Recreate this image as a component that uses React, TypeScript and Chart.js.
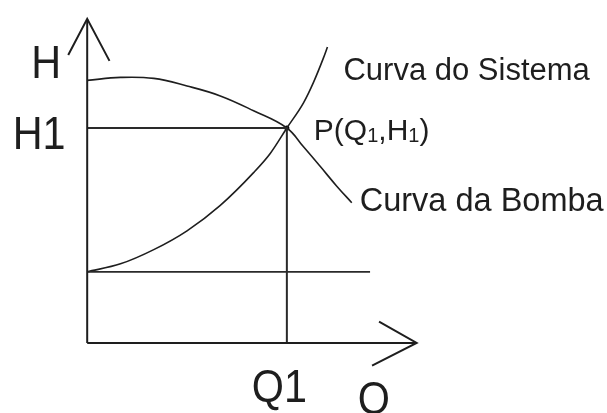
import React, { useEffect, useRef } from "react";
import { Chart, registerables } from "chart.js";

Chart.register(...registerables);

// Operating point and static head (Q, H in diagram units)
const Q1 = 6;
const H1 = 6.5;
const H_STATIC = 2.15;

// Axis extents
const Q_AXIS_END = 9.9;
const H_AXIS_END = 9.8;
const STATIC_LINE_END = 8.5;

// Pump curve (Curva da Bomba)
const pumpQ = [0, 1, 2, 3, 4, 5, 6, 6.5, 7, 7.5, 7.95];
const pumpH = [7.94, 8.03, 8.0, 7.77, 7.47, 7.02, 6.5, 5.93, 5.34, 4.74, 4.24];

// System curve (Curva do Sistema)
const systemQ = [0, 1, 2, 3, 4, 5, 5.5, 6, 6.5, 6.8, 7.1, 7.22];
const systemH = [2.15, 2.39, 2.82, 3.39, 4.16, 5.15, 5.73, 6.5, 7.26, 7.88, 8.62, 8.95];

// Axis and curve labels
const axisLabelH = "H";
const axisLabelQ = "Q";
const tickLabelH1 = "H1";
const tickLabelQ1 = "Q1";
const curveLabelSystem = "Curva do Sistema";
const curveLabelPump = "Curva da Bomba";

const INK = "#1e1e1e";
const FONT = '"Liberation Sans", Arial, sans-serif';

const pts = (xs: number[], ys: number[]) => xs.map((x, i) => ({ x, y: ys[i] }));

const labelsPlugin = {
  id: "diagramLabels",
  afterDatasetsDraw(chart: any) {
    const { ctx, scales } = chart;
    const X = (v: number) => scales.x.getPixelForValue(v);
    const Y = (v: number) => scales.y.getPixelForValue(v);
    ctx.save();
    ctx.fillStyle = INK;
    ctx.textBaseline = "alphabetic";
    ctx.textAlign = "left";

    const text = (s: string, size: number, x: number, y: number, sx = 1) => {
      ctx.font = `${size}px ${FONT}`;
      ctx.save();
      ctx.translate(x, y);
      ctx.scale(sx, 1);
      ctx.fillText(s, 0, 0);
      ctx.restore();
      return ctx.measureText(s).width * sx;
    };

    const BIG = 47;
    const NARROW = 0.88;

    // axis names beside the arrow tips
    text(axisLabelH, BIG, X(0) - 56, Y(H_AXIS_END) + 59.5, NARROW);
    text(axisLabelQ, BIG, X(Q_AXIS_END) - 59, Y(0) + 71, NARROW);

    // operating point ticks
    text(tickLabelH1, BIG, X(0) - 74.5, Y(H1) + 21.5, NARROW);
    text(tickLabelQ1, BIG, X(Q1) - 35, Y(0) + 59.5, NARROW);

    // curve names next to the curve ends
    const sysEnd = systemQ.length - 1;
    text(curveLabelSystem, 31, X(systemQ[sysEnd]) + 16, Y(systemH[sysEnd]) + 33);
    const pumpEnd = pumpQ.length - 1;
    text(curveLabelPump, 32.5, X(pumpQ[pumpEnd]) + 8, Y(pumpH[pumpEnd]) + 8);

    // P(Q1,H1) with subscripts
    let px = X(Q1) + 27;
    const py = Y(H1) + 12;
    const main = 30;
    const sub = 20;
    px += text("P(Q", main, px, py);
    px += text("1", sub, px, py + 2);
    px += text(",H", main, px, py);
    px += text("1", sub, px, py + 2);
    text(")", main, px, py);

    ctx.restore();
  },
};

export default function App() {
  const ref = useRef<HTMLCanvasElement | null>(null);

  useEffect(() => {
    if (!ref.current) return;
    const line = (data: { x: number; y: number }[], width: number, extra: any = {}) => ({
      data,
      showLine: true,
      borderColor: INK,
      borderWidth: width,
      pointRadius: 0,
      fill: false,
      clip: false,
      ...extra,
    });

    const chart = new Chart(ref.current, {
      type: "scatter",
      data: {
        datasets: [
          // vertical axis and arrow
          line([{ x: 0, y: 0 }, { x: 0, y: H_AXIS_END }], 2),
          line([{ x: -0.57, y: 8.71 }, { x: 0, y: H_AXIS_END }, { x: 0.67, y: 8.53 }], 2),
          // horizontal axis and arrow
          line([{ x: 0, y: 0 }, { x: Q_AXIS_END, y: 0 }], 2),
          line([{ x: 8.77, y: 0.64 }, { x: Q_AXIS_END, y: 0 }, { x: 8.56, y: -0.69 }], 2),
          // guide lines to the operating point
          line([{ x: 0, y: H1 }, { x: Q1, y: H1 }, { x: Q1, y: 0 }], 2, { borderColor: "#2a2a2a" }),
          // static head
          line([{ x: 0, y: H_STATIC }, { x: STATIC_LINE_END, y: H_STATIC }], 1.8, { borderColor: "#2a2a2a" }),
          // curves
          line(pts(pumpQ, pumpH), 1.6, { tension: 0.4 }),
          line(pts(systemQ, systemH), 1.6, { cubicInterpolationMode: "monotone" }),
          // operating point
          {
            data: [{ x: Q1, y: H1 }],
            pointRadius: 2.5,
            pointBackgroundColor: "#000",
            pointBorderWidth: 0,
            showLine: false,
          },
        ],
      },
      options: {
        animation: false,
        responsive: false,
        events: [],
        layout: { padding: 0 },
        plugins: { legend: { display: false }, tooltip: { enabled: false } },
        scales: {
          x: { type: "linear", min: -2.5, max: 15.5, display: false },
          y: { type: "linear", min: -2, max: 10.25, display: false },
        },
      },
      plugins: [labelsPlugin],
    } as any);

    return () => chart.destroy();
  }, []);

  return (
    <div style={{ position: "absolute", left: 0, top: 0, width: 607, height: 413, background: "#fff" }}>
      <canvas ref={ref} width={607} height={413} />
    </div>
  );
}
